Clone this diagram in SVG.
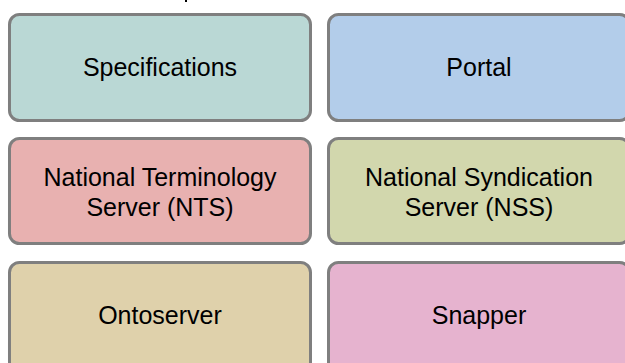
<svg xmlns="http://www.w3.org/2000/svg" width="625" height="363" viewBox="0 0 625 363">
<style>
.box{stroke:#7f7f7f;stroke-width:3}
.lbl{font-family:"Liberation Sans",Arial,sans-serif;font-size:25px;fill:#000;text-anchor:middle}
</style>
<rect x="0" y="0" width="625" height="363" fill="#fff"/>
<rect x="185" y="0" width="2" height="2" fill="#000"/>
<g id="connectors"></g>
<g id="specifications">
<rect class="box" x="9.5" y="14.5" width="301" height="106" rx="10" fill="#bad8d5"/>
<text class="lbl" x="160" y="76">Specifications</text>
</g>
<g id="portal">
<rect class="box" x="328.5" y="14.5" width="301" height="106" rx="10" fill="#b3cdea"/>
<text class="lbl" x="479" y="76">Portal</text>
</g>
<g id="nts">
<rect class="box" x="9.5" y="138.5" width="301" height="105" rx="10" fill="#e8b1b0"/>
<text class="lbl" x="160" y="186">National Terminology</text>
<text class="lbl" x="160" y="216">Server (NTS)</text>
</g>
<g id="nss">
<rect class="box" x="328.5" y="138.5" width="301" height="105" rx="10" fill="#d2d7ad"/>
<text class="lbl" x="479" y="186">National Syndication</text>
<text class="lbl" x="479" y="216">Server (NSS)</text>
</g>
<g id="ontoserver">
<rect class="box" x="9.5" y="262.5" width="301" height="110" rx="10" fill="#dfd1ab"/>
<text class="lbl" x="160" y="324">Ontoserver</text>
</g>
<g id="snapper">
<rect class="box" x="328.5" y="262.5" width="301" height="110" rx="10" fill="#e6b3cf"/>
<text class="lbl" x="479" y="324">Snapper</text>
</g>
</svg>
